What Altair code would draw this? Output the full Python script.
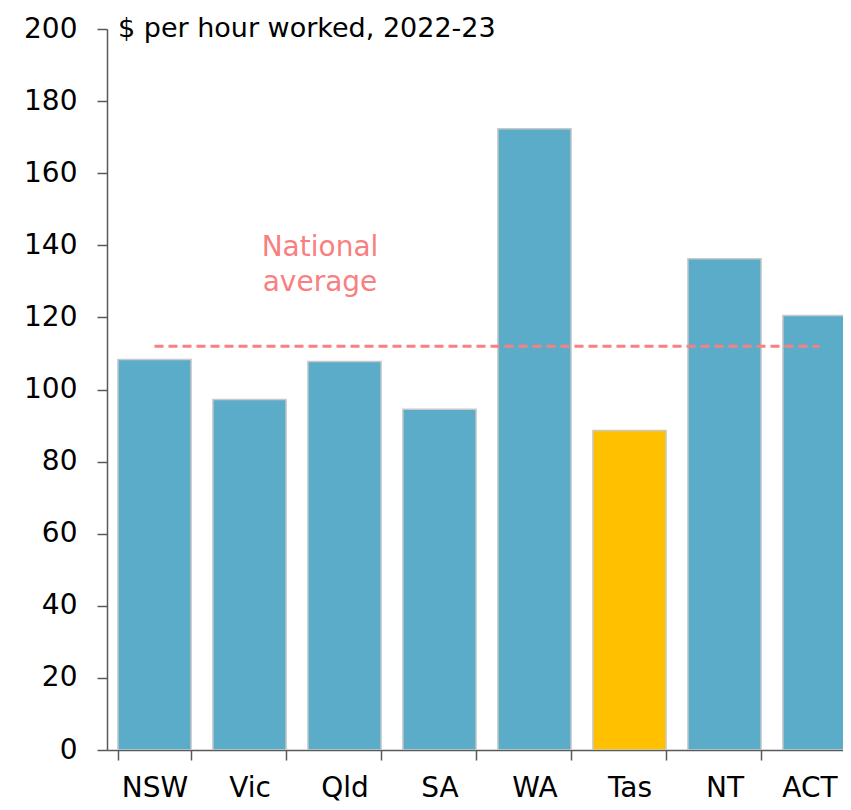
import altair as alt
import pandas as pd

states = ["NSW", "Vic", "Qld", "SA", "WA", "Tas", "NT", "ACT"]
values = [108.3, 97.2, 107.8, 94.5, 172.3, 88.6, 136.3, 120.5]
highlight = ["no", "no", "no", "no", "no", "yes", "no", "no"]
national_avg = 112.0

df = pd.DataFrame({"state": states, "value": values, "hl": highlight})

FONT = "DejaVu Sans"
FS = 28

xscale = alt.Scale(domain=states, range=[0, 760], paddingInner=0.23, paddingOuter=0.115)
yscale = alt.Scale(domain=[0, 200])

bars = alt.Chart(df).mark_bar(stroke="#c8c8c8", strokeWidth=1.5, clip=True).encode(
    x=alt.X("state:N", scale=xscale, sort=states,
            axis=alt.Axis(title=None, labelAngle=0, labelFont=FONT, labelFontSize=FS,
                          labelColor="black", labelPadding=14, tickSize=10,
                          tickColor="#595959", domainColor="#595959", domainWidth=1.5,
                          tickWidth=1.5, tickBand="extent", labelBaseline="top",
                          labelOffset=alt.ExprRef("datum.value == 'ACT' ? -10 : 0"))),
    y=alt.Y("value:Q", scale=yscale,
            axis=alt.Axis(title=None, values=list(range(0, 201, 20)), grid=False,
                          labelFont=FONT, labelFontSize=FS, labelColor="black",
                          labelPadding=20, tickSize=10, tickColor="#595959",
                          domainColor="#595959", domainWidth=1.5, tickWidth=1.5)),
    color=alt.Color("hl:N", scale=alt.Scale(domain=["no", "yes"], range=["#5bacc8", "#ffc000"]),
                    legend=None),
)

avg_df = pd.DataFrame({"start": [states[0]], "end": [states[-1]], "avg": [national_avg]})
rule = alt.Chart(avg_df).mark_rule(color="#f98080", strokeWidth=3, strokeDash=[9, 5]).encode(
    x=alt.X("start:N", scale=xscale, sort=states),
    x2="end:N",
    y=alt.Y("avg:Q", scale=yscale),
)

lab_df = pd.DataFrame({"t": ["National\naverage"], "v": [139.3]})
label = alt.Chart(lab_df).mark_text(font=FONT, fontSize=FS, color="#f98080",
                                     lineBreak="\n", lineHeight=35, align="center",
                                     baseline="middle").encode(
    x=alt.value(213),
    y=alt.Y("v:Q", scale=yscale),
    text="t:N",
)

title_df = pd.DataFrame({"t": ["$ per hour worked, 2022-23"], "v": [200]})
title = alt.Chart(title_df).mark_text(font=FONT, fontSize=27, color="black",
                                       align="left", baseline="middle").encode(
    x=alt.value(11),
    y=alt.Y("v:Q", scale=yscale),
    text="t:N",
)

chart = alt.layer(bars, rule, label, title).properties(
    width=736, height=721,
    autosize=alt.AutoSizeParams(type="none"),
    padding={"left": 99, "top": 21, "right": 0, "bottom": 52},
).configure_view(stroke=None)

chart.save("out.html", embed_options={"renderer": "svg", "actions": False})
